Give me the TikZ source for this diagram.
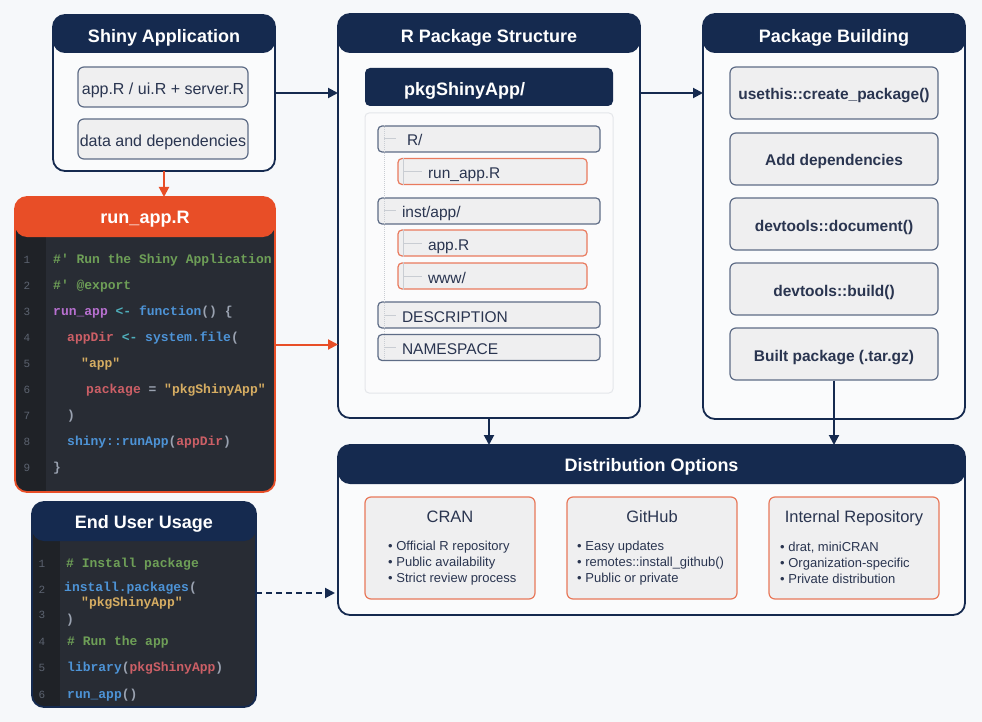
\documentclass[tikz,border=0pt]{standalone}
\usepackage{fontspec}
\setmainfont{Liberation Sans}
\setmonofont{Liberation Mono}
\usetikzlibrary{arrows.meta,positioning}

\definecolor{pagebg}{HTML}{F6F8FA}
\definecolor{panelbg}{HTML}{FAFBFC}
\definecolor{navy}{HTML}{152A4F}
\definecolor{accent}{HTML}{E84E27}
\definecolor{itembg}{HTML}{EFEFF0}
\definecolor{itemline}{HTML}{5E6C86}
\definecolor{fileline}{HTML}{E97A5E}
\definecolor{distline}{HTML}{E8785A}
\definecolor{textdark}{HTML}{2A3550}
\definecolor{treebg}{HTML}{FBFBFC}
\definecolor{treeedge}{HTML}{E4E6EA}
\definecolor{treeline}{HTML}{C9CDD3}
\definecolor{codebg}{HTML}{282C34}
\definecolor{gutterbg}{HTML}{1F2227}
\definecolor{lnogray}{HTML}{5C6370}
\definecolor{ccomment}{HTML}{6E9F57}
\definecolor{cpurple}{HTML}{B870D0}
\definecolor{cteal}{HTML}{4FB0BC}
\definecolor{cblue}{HTML}{4D93D6}
\definecolor{cred}{HTML}{CC5F66}
\definecolor{cyellow}{HTML}{D6AD62}
\definecolor{cpunct}{HTML}{9AA2B0}

\newcommand\ccm[1]{\textcolor{ccomment}{#1}}
\newcommand\cpu[1]{\textcolor{cpurple}{#1}}
\newcommand\cte[1]{\textcolor{cteal}{#1}}
\newcommand\cbl[1]{\textcolor{cblue}{#1}}
\newcommand\cre[1]{\textcolor{cred}{#1}}
\newcommand\cye[1]{\textcolor{cyellow}{#1}}
\newcommand\cpn[1]{\textcolor{cpunct}{#1}}

\tikzset{
  panel/.style={anchor=north west, fill=panelbg, rounded corners=12pt, inner sep=0pt, outer sep=0pt},
  paneltitle/.style={text=white, font=\fontsize{18}{20}\selectfont\bfseries, text height=16.2pt, text depth=0pt},
  itembox/.style={draw=itemline, line width=1.2pt, fill=itembg, rounded corners=6pt, minimum width=170pt, minimum height=40pt,
    inner sep=0pt, text=textdark, font=\fontsize{16}{18}\selectfont, text height=14.4pt, text depth=0pt},
  dirbox/.style={draw=itemline, line width=1.2pt, fill=itembg, rounded corners=4pt, minimum height=26pt, text width=174pt,
    inner xsep=24pt, inner ysep=0pt, align=left, text=textdark, font=\fontsize{15.5}{17}\selectfont, text height=14pt, text depth=0pt},
  filebox/.style={dirbox, draw=fileline, text width=129pt, inner xsep=30pt},
  buildbox/.style={itembox, minimum width=208pt, minimum height=52pt, font=\fontsize{15.5}{17}\selectfont\bfseries, text height=14pt},
  distbox/.style={draw=distline, line width=1.2pt, fill=itembg, rounded corners=6pt, minimum width=170pt, minimum height=102pt},
  optiontitle/.style={text=textdark, font=\fontsize{16.5}{18}\selectfont, text height=9pt, text depth=0pt},
  bullets/.style={anchor=west, align=left, inner sep=0pt, text=textdark, font=\fontsize{13}{16}\selectfont},
  codeline/.style={anchor=west, inner sep=0pt, font=\ttfamily\bfseries\fontsize{13}{15}\selectfont},
  lineno/.style={inner sep=0pt, text=lnogray, font=\ttfamily\fontsize{11}{13}\selectfont},
  arr/.style={draw=navy, line width=2pt, -{Triangle[length=10pt,width=10pt]}},
  redarr/.style={arr, draw=accent},
  branch/.style={draw=treeline, line width=1pt},
}

\begin{document}
\begin{tikzpicture}[x=1pt, y=-1pt]
  \useasboundingbox (0,0) rectangle (982,722);
  \fill[pagebg] (0,0) rectangle (982,722);

  %%%%% shiny application %%%%%
  \node[panel, minimum width=222pt, minimum height=156pt] (shiny) at (53,15) {};
  \fill[navy, rounded corners=12pt] (shiny.north west) rectangle ([yshift=-38pt]shiny.north east);
  \draw[navy, line width=1.8pt, rounded corners=12pt] (shiny.north west) rectangle (shiny.south east);
  \node[paneltitle] (shinytitle) at ([yshift=-19pt]shiny.north) {Shiny Application};
  \node[itembox] (appfiles) at (163,87) {app.R / ui.R + server.R};
  \node[itembox] (appdeps) at (163,139) {data and dependencies};

  %%%%% run_app.R code %%%%%
  \node[panel, fill=codebg, minimum width=260pt, minimum height=295pt] (runapp) at (15,197) {};
  \begin{scope}
    \clip[rounded corners=12pt] (runapp.north west) rectangle (runapp.south east);
    \fill[gutterbg] (runapp.north west) rectangle ([xshift=31pt]runapp.south west);
    \fill[accent, rounded corners=12pt] (runapp.north west) rectangle ([yshift=-40pt]runapp.north east);
    \foreach \n in {1,...,9}
      \node[lineno] (rn\n) at (27, 234+26*\n) {\n};
    \node[codeline] (rc1) at (53,260) {\ccm{\#' Run the Shiny Application}};
    \node[codeline] (rc2) at (53,286) {\ccm{\#' @export}};
    \node[codeline] (rc3) at (53,312) {\cpu{run\_app} \cte{<-} \cbl{function}\cpn{() \{}};
    \node[codeline] (rc4) at (67,338) {\cre{appDir} \cte{<-} \cbl{system.file}\cpn{(}};
    \node[codeline] (rc5) at (81,364) {\cye{"app"}};
    \node[codeline] (rc6) at (86,390) {\cre{package} \cpn{=} \cye{"pkgShinyApp"}};
    \node[codeline] (rc7) at (67,416) {\cpn{)}};
    \node[codeline] (rc8) at (67,442) {\cbl{shiny::runApp}\cpn{(}\cre{appDir}\cpn{)}};
    \node[codeline] (rc9) at (53,468) {\cpn{\}}};
  \end{scope}
  \draw[accent, line width=1.8pt, rounded corners=12pt] (runapp.north west) rectangle (runapp.south east);
  \node[paneltitle] (runtitle) at ([yshift=-18pt]runapp.north) {run\_app.R};

  %%%%% end user usage %%%%%
  \node[panel, fill=codebg, minimum width=224pt, minimum height=205pt] (enduser) at (32,502) {};
  \begin{scope}
    \clip[rounded corners=12pt] (enduser.north west) rectangle (enduser.south east);
    \fill[gutterbg] (enduser.north west) rectangle ([xshift=28pt]enduser.south west);
    \fill[navy, rounded corners=12pt] (enduser.north west) rectangle ([yshift=-39pt]enduser.north east);
    \clip (0,0) rectangle (982,700);
    \foreach \n/\y in {1/564,2/590,3/615,4/642,5/668,6/695}
      \node[lineno] (un\n) at (42,\y) {\n};
    \node[codeline] (uc1) at (66,564) {\ccm{\# Install package}};
    \node[codeline] (uc2) at (64,588) {\cbl{install.packages}\cpn{(}};
    \node[codeline] (uc3) at (81,603) {\cye{"pkgShinyApp"}};
    \node[codeline] (uc4) at (66,620) {\cpn{)}};
    \node[codeline] (uc5) at (67,642) {\ccm{\# Run the app}};
    \node[codeline] (uc6) at (67,668) {\cbl{library}\cpn{(}\cre{pkgShinyApp}\cpn{)}};
    \node[codeline] (uc7) at (67,695) {\cbl{run\_app}\cpn{()}};
  \end{scope}
  \draw[navy, line width=1.8pt, rounded corners=12pt] (enduser.north west) rectangle (enduser.south east);
  \node[paneltitle] (usertitle) at ([yshift=-18pt]enduser.north) {End User Usage};

  %%%%% R package structure %%%%%
  \node[panel, minimum width=302pt, minimum height=404pt] (pkg) at (338,14) {};
  \fill[navy, rounded corners=12pt] (pkg.north west) rectangle ([yshift=-39pt]pkg.north east);
  \draw[navy, line width=1.8pt, rounded corners=12pt] (pkg.north west) rectangle (pkg.south east);
  \node[paneltitle] (pkgtitle) at ([yshift=-20pt]pkg.north) {R Package Structure};
  \node[fill=navy, rounded corners=5pt, minimum height=38pt, text width=170pt, inner xsep=39pt, align=left,
        text=white, font=\fontsize{18}{20}\selectfont\bfseries, text height=16.2pt, text depth=0pt] (pkgroot) at (489,87) {pkgShinyApp/};
  \node[draw=treeedge, fill=treebg, line width=1pt, rounded corners=4pt, minimum width=248pt, minimum height=280pt] (tree) at (489,253) {};

  \node[dirbox] (rdir) at (489,139) {\hspace{5pt}R/};
  \node[filebox] (runfile) at (492.5,171.5) {run\_app.R};
  \node[dirbox] (instdir) at (489,211) {inst/app/};
  \node[filebox] (appfile) at (492.5,243) {app.R};
  \node[filebox] (wwwfile) at (492.5,276) {www/};
  \node[dirbox] (descfile) at (489,315) {DESCRIPTION};
  \node[dirbox] (nsfile) at (489,347.5) {NAMESPACE};

  \draw[branch, densely dotted] ([xshift=7pt]rdir.north west) -- ([xshift=7pt]nsfile.south west);
  \foreach \d in {rdir,instdir,descfile,nsfile}
    \draw[branch] ([xshift=7pt]\d.west) -- ([xshift=19pt]\d.west);
  \foreach \f in {runfile,appfile,wwwfile}
    \draw[branch] ([xshift=6pt]\f.north west) -- ([xshift=6pt]\f.south west)
                  ([xshift=6pt]\f.west) -- ([xshift=25pt]\f.west);

  %%%%% package building %%%%%
  \node[panel, minimum width=262pt, minimum height=405pt] (build) at (703,14) {};
  \fill[navy, rounded corners=12pt] (build.north west) rectangle ([yshift=-39pt]build.north east);
  \draw[navy, line width=1.8pt, rounded corners=12pt] (build.north west) rectangle (build.south east);
  \node[paneltitle] (buildtitle) at ([yshift=-20pt]build.north) {Package Building};
  \foreach \y/\txt [count=\k] in {93/usethis::create\_package(), 159/Add dependencies,
      224/devtools::document(), 289/devtools::build(), 354/Built package (.tar.gz)}
    \node[buildbox] (bstep\k) at (834,\y) {\txt};

  %%%%% distribution options %%%%%
  \node[panel, minimum width=627pt, minimum height=170pt] (dist) at (338,445) {};
  \fill[navy, rounded corners=12pt] (dist.north west) rectangle ([yshift=-39pt]dist.north east);
  \draw[navy, line width=1.8pt, rounded corners=12pt] (dist.north west) rectangle (dist.south east);
  \node[paneltitle] (disttitle) at ([yshift=-18pt]dist.north) {Distribution Options};

  \node[distbox] (cran) at (450,548) {};
  \node[optiontitle] (crantitle) at ([yshift=-22pt]cran.north) {CRAN};
  \node[bullets] (cranlist) at (388,563) {• Official R repository\\• Public availability\\• Strict review process};
  \node[distbox] (github) at (652,548) {};
  \node[optiontitle] (githubtitle) at ([yshift=-22pt]github.north) {GitHub};
  \node[bullets] (githublist) at (577,563) {• Easy updates\\• remotes::install\_github()\\• Public or private};
  \node[distbox] (internal) at (854,548) {};
  \node[optiontitle] (internaltitle) at ([yshift=-22pt]internal.north) {Internal Repository};
  \node[bullets] (internallist) at (780,563) {• drat, miniCRAN\\• Organization-specific\\• Private distribution};

  %%%%% connectors %%%%%
  \draw[arr] (shiny.east) -- (shiny.east -| pkg.west);
  \draw[arr] (pkg.east |- shiny.east) -- (build.west |- shiny.east);
  \draw[redarr] (shiny.south) -- (shiny.south |- runapp.north);
  \draw[redarr] (runapp.east) -- (runapp.east -| pkg.west);
  \draw[arr] (pkg.south) -- (pkg.south |- dist.north);
  \draw[arr] (bstep5.south) -- (bstep5.south |- dist.north);
  \coordinate (dashlevel) at (0,593);
  \draw[arr, dash pattern=on 6pt off 4pt, shorten >=3pt] (enduser.east |- dashlevel) -- (dist.west |- dashlevel);
\end{tikzpicture}
\end{document}
